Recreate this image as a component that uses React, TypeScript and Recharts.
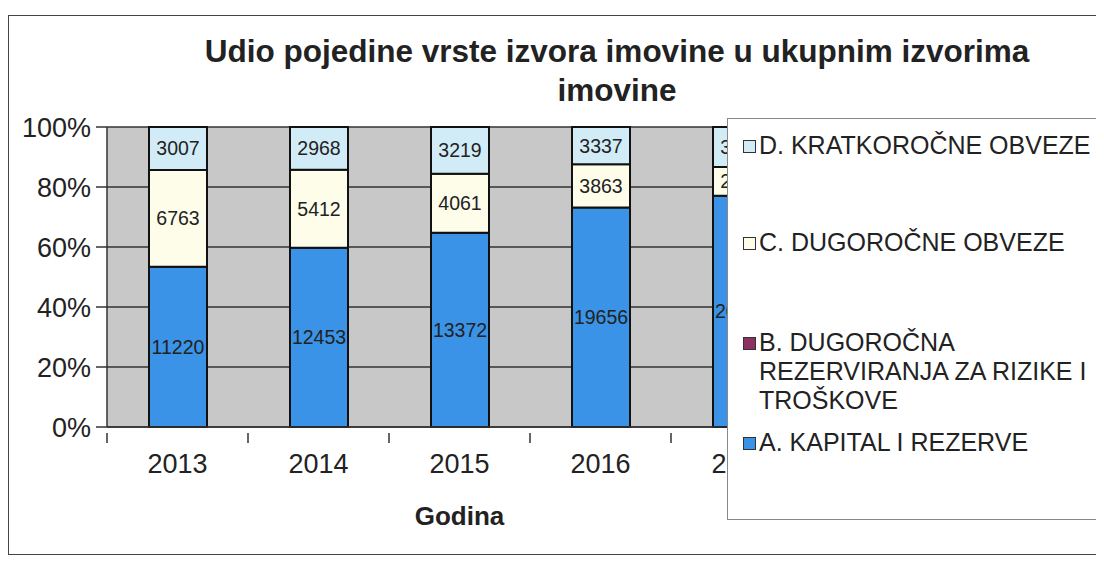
import React from "react";
import {
  BarChart,
  Bar,
  XAxis,
  YAxis,
  CartesianGrid,
  Legend,
  LabelList,
} from "recharts";

const years = ["2013", "2014", "2015", "2016", "2017"];
const kapital = [11220, 12453, 13372, 19656, 20400];
const rezerviranja = [0, 0, 0, 0, 0];
const dugorocne = [6763, 5412, 4061, 3863, 2530];
const kratkorocne = [3007, 2968, 3219, 3337, 3540];
const yTicks = [0, 0.2, 0.4, 0.6, 0.8, 1];

const series = [
  { key: "D", name: "D. KRATKOROČNE OBVEZE", color: "#d2ecf7" },
  { key: "C", name: "C. DUGOROČNE OBVEZE", color: "#fdfdea" },
  { key: "B", name: "B. DUGOROČNA REZERVIRANJA ZA RIZIKE I TROŠKOVE", color: "#8e3062" },
  { key: "A", name: "A. KAPITAL I REZERVE", color: "#3a93e6" },
];

const data = years.map((y, i) => ({
  year: y,
  A: kapital[i],
  B: rezerviranja[i],
  C: dugorocne[i],
  D: kratkorocne[i],
}));

const FONT = '"Liberation Sans", Arial, sans-serif';

// Excel puts the x tick marks between categories, not under them
function YearTick(props: any) {
  const { x, y, payload } = props;
  const half = payload && payload.offset ? payload.offset : 0;
  return (
    <g>
      {half > 0 && (
        <line x1={x - half} x2={x - half} y1={y - 22} y2={y - 12} stroke="#333" strokeWidth={1.5} />
      )}
      <text x={x} y={y} dy={18} textAnchor="middle" fill="#222" fontSize={27} fontFamily={FONT}>
        {payload.value}
      </text>
    </g>
  );
}

function LegendBox() {
  const rowHeights = [97, 100, 100, 60];
  return (
    <div
      style={{
        width: 376,
        height: 402,
        background: "#fff",
        border: "1px solid #888",
        boxSizing: "border-box",
        paddingTop: 12,
        paddingLeft: 15,
        fontFamily: FONT,
        fontSize: 25,
        color: "#222",
      }}
    >
      {series.map((s, i) => (
        <div key={s.key} style={{ display: "flex", alignItems: "flex-start", height: rowHeights[i] }}>
          <div
            style={{
              width: 11,
              height: 11,
              background: s.color,
              border: "1.5px solid #333",
              marginTop: 9,
              marginRight: 3,
              flexShrink: 0,
            }}
          />
          <div style={{ width: 342, lineHeight: "29px" }}>{s.name}</div>
        </div>
      ))}
    </div>
  );
}

export default function App() {
  return (
    <div
      style={{
        position: "relative",
        margin: -8,
        width: 1104,
        height: 567,
        overflow: "hidden",
        background: "#fff",
        fontFamily: FONT,
      }}
    >
      <div
        style={{
          position: "absolute",
          left: 150,
          width: 934,
          top: 32,
          textAlign: "center",
          fontWeight: "bold",
          fontSize: 31.5,
          lineHeight: "39px",
          color: "#222",
        }}
      >
        Udio pojedine vrste izvora imovine u ukupnim izvorima
        <br />
        imovine
      </div>
      <div style={{ position: "absolute", left: 0, top: 0 }}>
        <BarChart
          width={1104}
          height={567}
          data={data}
          stackOffset="expand"
          margin={{ top: 127, right: 292, bottom: 92, left: 37 }}
        >
          <CartesianGrid
            vertical={false}
            horizontal={true}
            stroke="#333"
            strokeWidth={1.3}
            fill="#c8c8c8"
            fillOpacity={1}
          />
          <XAxis
            dataKey="year"
            height={48}
            axisLine={{ stroke: "#333", strokeWidth: 1.5 }}
            tickLine={false}
            tick={<YearTick />}
            tickMargin={22}
            label={{
              value: "Godina",
              position: "insideBottom",
              offset: -50,
              fill: "#222",
              fontSize: 26,
              fontWeight: "bold",
              fontFamily: FONT,
            }}
          />
          <YAxis
            width={70}
            domain={[0, 1]}
            ticks={yTicks}
            interval={0}
            tickFormatter={(v) => `${Math.round(v * 100)}%`}
            axisLine={{ stroke: "#333", strokeWidth: 1.5 }}
            tickLine={{ stroke: "#333", strokeWidth: 1.5 }}
            tickSize={11}
            tickMargin={5}
            tick={{ fill: "#222", fontSize: 27, fontFamily: FONT }}
          />
          <Legend
            layout="vertical"
            align="center"
            verticalAlign="middle"
            content={() => <LegendBox />}
            wrapperStyle={{ left: 727, top: 118, width: 376, height: 402 }}
          />
          {["A", "B", "C", "D"].map((k) => {
            const s = series.find((x) => x.key === k)!;
            return (
              <Bar
                key={k}
                dataKey={k}
                name={s.name}
                stackId="s"
                fill={s.color}
                stroke="#111"
                strokeWidth={2}
                barSize={58}
                isAnimationActive={false}
              >
                {k !== "B" && (
                  <LabelList
                    dataKey={k}
                    position="center"
                    fill="#222"
                    fontSize={19.5}
                    fontFamily={FONT}
                  />
                )}
              </Bar>
            );
          })}
        </BarChart>
      </div>
      <div
        style={{
          position: "absolute",
          left: 8,
          top: 15,
          width: 1120,
          height: 538,
          border: "1.5px solid #444",
          pointerEvents: "none",
        }}
      />
    </div>
  );
}
